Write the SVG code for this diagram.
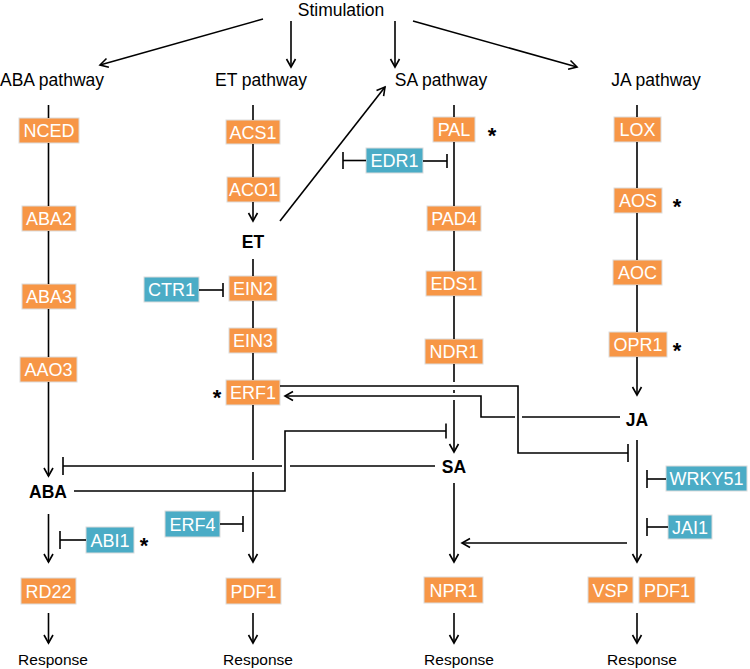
<svg xmlns="http://www.w3.org/2000/svg" width="750" height="669" viewBox="0 0 750 669">
<defs>
<marker id="arr" viewBox="-10 -6 12 12" refX="0" refY="0" markerWidth="12" markerHeight="12" markerUnits="userSpaceOnUse" orient="auto">
<path d="M-8,-4.5 L0,0 L-8,4.5" fill="none" stroke="#000" stroke-width="1.6"/>
</marker>
</defs>
<style>
.o{fill:#F79646;stroke:#dcdcdc;stroke-width:1}
.b{fill:#4BACC6;stroke:#dcdcdc;stroke-width:1}
.bt{font-family:"Liberation Sans",Arial,sans-serif;font-size:18px;fill:#fff;text-anchor:middle}
.lb{font-family:"Liberation Sans",Arial,sans-serif;font-size:17.5px;fill:#000;text-anchor:middle}
.bd{font-family:"Liberation Sans",Arial,sans-serif;font-size:17.5px;font-weight:bold;fill:#000;text-anchor:middle}
.rs{font-family:"Liberation Sans",Arial,sans-serif;font-size:15.5px;fill:#000;text-anchor:middle}
.st{font-family:"Liberation Sans",Arial,sans-serif;font-size:22px;font-weight:bold;fill:#000;text-anchor:middle}
.c line,.c path{stroke:#000;stroke-width:1.6;fill:none}
.a{marker-end:url(#arr)}
</style>
<rect width="750" height="669" fill="#fff"/>

<g id="labels">
<text class="lb" x="341" y="15.5">Stimulation</text>
<text class="lb" x="52" y="86">ABA pathway</text>
<text class="lb" x="261" y="86">ET pathway</text>
<text class="lb" x="441" y="86">SA pathway</text>
<text class="lb" x="656" y="86">JA pathway</text>
<text class="rs" x="53" y="665">Response</text>
<text class="rs" x="258" y="665">Response</text>
<text class="rs" x="459" y="665">Response</text>
<text class="rs" x="642" y="665">Response</text>
<text class="st" x="492" y="143">*</text>
<text class="st" x="677" y="214">*</text>
<text class="st" x="677" y="358">*</text>
<text class="st" x="217" y="405">*</text>
<text class="st" x="144" y="553">*</text>
</g>

<g id="ABA"><text class="bd" x="48" y="498">ABA</text></g>
<g id="ET"><text class="bd" x="253" y="248">ET</text></g>
<g id="SA"><text class="bd" x="454" y="473">SA</text></g>
<g id="JA"><text class="bd" x="637" y="426">JA</text></g>

<g id="NCED"><rect class="o" x="19" y="118" width="60" height="25"/><text class="bt" x="49" y="137">NCED</text></g>
<g id="ABA2"><rect class="o" x="22" y="206" width="54" height="25"/><text class="bt" x="49" y="225">ABA2</text></g>
<g id="ABA3"><rect class="o" x="22" y="284" width="54" height="25"/><text class="bt" x="49" y="303">ABA3</text></g>
<g id="AAO3"><rect class="o" x="20" y="357" width="57" height="25"/><text class="bt" x="48.5" y="376">AAO3</text></g>
<g id="ACS1"><rect class="o" x="226" y="120" width="54" height="24"/><text class="bt" x="253" y="138.5">ACS1</text></g>
<g id="ACO1"><rect class="o" x="227" y="177" width="53" height="25"/><text class="bt" x="253.5" y="196">ACO1</text></g>
<g id="EIN2"><rect class="o" x="229" y="276" width="48" height="25"/><text class="bt" x="253" y="295">EIN2</text></g>
<g id="CTR1"><rect class="b" x="144" y="277" width="55" height="25"/><text class="bt" x="171.5" y="296">CTR1</text></g>
<g id="EIN3"><rect class="o" x="229" y="328" width="48" height="25"/><text class="bt" x="253" y="347">EIN3</text></g>
<g id="ERF1"><rect class="o" x="226" y="380" width="54" height="25"/><text class="bt" x="253" y="399">ERF1</text></g>
<g id="PAL"><rect class="o" x="433" y="117" width="42" height="25"/><text class="bt" x="454" y="136">PAL</text></g>
<g id="EDR1"><rect class="b" x="366" y="148" width="57" height="25"/><text class="bt" x="394.5" y="167">EDR1</text></g>
<g id="PAD4"><rect class="o" x="427" y="206" width="54" height="25"/><text class="bt" x="454" y="225">PAD4</text></g>
<g id="EDS1"><rect class="o" x="426" y="271" width="56" height="25"/><text class="bt" x="454" y="290">EDS1</text></g>
<g id="NDR1"><rect class="o" x="425" y="339" width="58" height="25"/><text class="bt" x="454" y="358">NDR1</text></g>
<g id="LOX"><rect class="o" x="614" y="117" width="47" height="25"/><text class="bt" x="637.5" y="136">LOX</text></g>
<g id="AOS"><rect class="o" x="614" y="188" width="48" height="25"/><text class="bt" x="638" y="207">AOS</text></g>
<g id="AOC"><rect class="o" x="613" y="260" width="49" height="25"/><text class="bt" x="637.5" y="279">AOC</text></g>
<g id="OPR1"><rect class="o" x="609" y="332" width="58" height="25"/><text class="bt" x="638" y="351">OPR1</text></g>
<g id="WRKY51"><rect class="b" x="666" y="466" width="81" height="25"/><text class="bt" x="706.5" y="485">WRKY51</text></g>
<g id="JAI1"><rect class="b" x="668" y="515" width="44" height="24"/><text class="bt" x="690" y="533.5">JAI1</text></g>
<g id="ERF4"><rect class="b" x="165" y="511" width="55" height="26"/><text class="bt" x="192.5" y="530.5">ERF4</text></g>
<g id="ABI1"><rect class="b" x="86" y="527" width="48" height="26"/><text class="bt" x="110" y="546.5">ABI1</text></g>
<g id="RD22"><rect class="o" x="21" y="578" width="55" height="26"/><text class="bt" x="48.5" y="597.5">RD22</text></g>
<g id="PDF1_ET"><rect class="o" x="226" y="578" width="55" height="26"/><text class="bt" x="253.5" y="597.5">PDF1</text></g>
<g id="NPR1"><rect class="o" x="424" y="577" width="59" height="26"/><text class="bt" x="453.5" y="596.5">NPR1</text></g>
<g id="VSP"><rect class="o" x="588" y="577" width="45" height="26"/><text class="bt" x="610.5" y="596.5">VSP</text></g>
<g id="PDF1_JA"><rect class="o" x="639" y="577" width="56" height="26"/><text class="bt" x="667" y="596.5">PDF1</text></g>

<g id="connectors" class="c">
<line class="a" x1="263" y1="19" x2="100" y2="65"/>
<line class="a" x1="291" y1="21" x2="291" y2="67"/>
<line class="a" x1="395" y1="21" x2="395" y2="67"/>
<line class="a" x1="413" y1="21" x2="577" y2="67"/>
<line x1="48.5" y1="105" x2="48.5" y2="118"/>
<line x1="48.5" y1="143" x2="48.5" y2="206"/>
<line x1="48.5" y1="231" x2="48.5" y2="284"/>
<line x1="48.5" y1="309" x2="48.5" y2="357"/>
<line class="a" x1="48.5" y1="382" x2="48.5" y2="476"/>
<line class="a" x1="48.5" y1="514" x2="48.5" y2="562"/>
<line class="a" x1="48.5" y1="613" x2="48.5" y2="643"/>
<line x1="86" y1="540" x2="60" y2="540"/>
<line x1="60" y1="531" x2="60" y2="549"/>
<line x1="253" y1="105" x2="253" y2="120"/>
<line x1="253" y1="144" x2="253" y2="177"/>
<line class="a" x1="253" y1="202" x2="253" y2="221"/>
<line x1="253" y1="259" x2="253" y2="276"/>
<line x1="253" y1="301" x2="253" y2="328"/>
<line x1="253" y1="353" x2="253" y2="380"/>
<line x1="253" y1="405" x2="253" y2="460"/>
<line class="a" x1="253" y1="472" x2="253" y2="562"/>
<line class="a" x1="253" y1="613" x2="253" y2="643"/>
<line x1="199" y1="290" x2="223" y2="290"/>
<line x1="223" y1="283" x2="223" y2="297"/>
<line x1="220" y1="524" x2="243" y2="524"/>
<line x1="243" y1="516" x2="243" y2="532"/>
<line class="a" x1="280" y1="221" x2="385" y2="87"/>
<line x1="454" y1="105" x2="454" y2="117"/>
<line x1="454" y1="142" x2="454" y2="206"/>
<line x1="454" y1="231" x2="454" y2="271"/>
<line x1="454" y1="296" x2="454" y2="339"/>
<line x1="454" y1="364" x2="454" y2="382"/>
<line x1="454" y1="390" x2="454" y2="393"/>
<line class="a" x1="454" y1="400" x2="454" y2="452"/>
<line class="a" x1="454" y1="483" x2="454" y2="562"/>
<line class="a" x1="454" y1="613" x2="454" y2="643"/>
<line x1="366" y1="160.5" x2="343" y2="160.5"/>
<line x1="343" y1="152" x2="343" y2="169"/>
<line x1="423" y1="161" x2="447" y2="161"/>
<line x1="447" y1="154" x2="447" y2="168"/>
<line x1="637" y1="105" x2="637" y2="117"/>
<line x1="637" y1="142" x2="637" y2="188"/>
<line x1="637" y1="213" x2="637" y2="260"/>
<line x1="637" y1="285" x2="637" y2="332"/>
<line class="a" x1="637" y1="357" x2="637" y2="395"/>
<line class="a" x1="637" y1="440" x2="637" y2="562"/>
<line class="a" x1="637" y1="613" x2="637" y2="643"/>
<line x1="666" y1="479" x2="647" y2="479"/>
<line x1="647" y1="470" x2="647" y2="488"/>
<line x1="668" y1="527" x2="647" y2="527"/>
<line x1="647" y1="518" x2="647" y2="536"/>
<path d="M280,386 H518 V453 H628"/>
<line x1="628" y1="444" x2="628" y2="462"/>
<line x1="620" y1="417" x2="522" y2="417"/>
<path class="a" d="M515,417 H481 V396 H285"/>
<path d="M74,491 H285 V431 H446"/>
<line x1="446" y1="423.5" x2="446" y2="438.5"/>
<line x1="435" y1="466" x2="290" y2="466"/>
<line x1="282" y1="466" x2="63" y2="466"/>
<line x1="63" y1="457" x2="63" y2="475"/>
<line class="a" x1="627" y1="543" x2="462" y2="543"/>
</g>
</svg>
